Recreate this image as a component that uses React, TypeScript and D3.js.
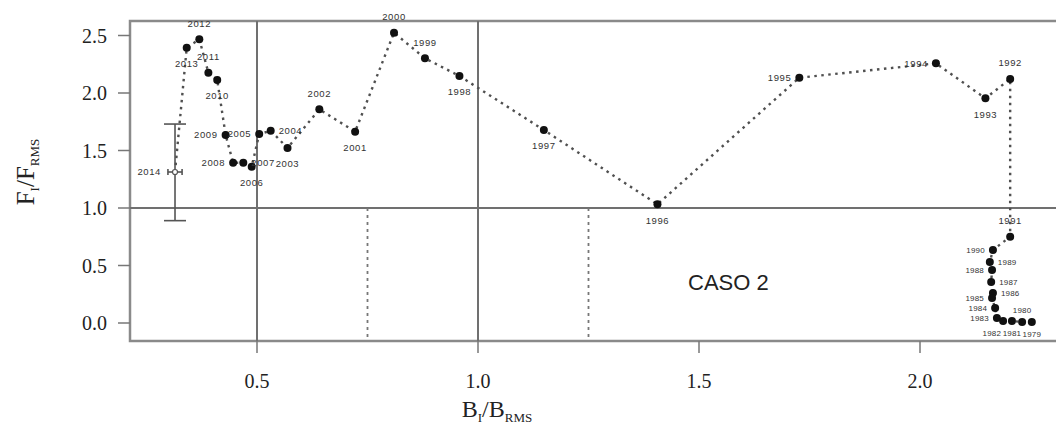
import React from "react";
import * as d3 from "d3";

// Data (year, B_I/B_RMS, F_I/F_RMS)
const years = [
  2014, 2013, 2012, 2011, 2010, 2009, 2008, 2007, 2006, 2005, 2004, 2003, 2002, 2001,
  2000, 1999, 1998, 1997, 1996, 1995, 1994, 1993, 1992, 1991,
  1990, 1989, 1988, 1987, 1986, 1985, 1984, 1983, 1982, 1981, 1980, 1979,
];
const bRatio = [
  0.3145, 0.341, 0.3695, 0.39, 0.41, 0.429, 0.446, 0.469, 0.488, 0.505, 0.531, 0.569, 0.641, 0.722,
  0.81, 0.88, 0.958, 1.149, 1.406, 1.727, 2.036, 2.148, 2.204, 2.204,
  2.165, 2.158, 2.163, 2.161, 2.165, 2.163, 2.17, 2.174, 2.188, 2.208, 2.231, 2.253,
];
const fRatio = [
  1.313, 2.394, 2.467, 2.177, 2.113, 1.635, 1.394, 1.394, 1.359, 1.643, 1.672, 1.522, 1.858, 1.664,
  2.524, 2.302, 2.148, 1.678, 1.032, 2.133, 2.258, 1.954, 2.122, 0.75,
  0.635, 0.53, 0.461, 0.357, 0.261, 0.217, 0.13, 0.043, 0.017, 0.017, 0.009, 0.009,
];
// where each year label sits relative to its point
const labelSide = [
  "l", "b", "t", "t", "b", "l", "l", "r", "b", "l", "r", "b", "t", "b",
  "t", "t", "b", "b", "b", "l", "l", "b", "t", "t",
  "l", "r", "l", "r", "r", "l", "l", "l", "bl", "b", "t", "b",
];
// 2014 uncertainty
const errYear = [2014];
const errLow = [0.89];
const errHigh = [1.73];
const errXHalf = [0.016];

const xTicks = [0.5, 1.0, 1.5, 2.0];
const yTicks = [0.0, 0.5, 1.0, 1.5, 2.0, 2.5];
const solidX = [0.5, 1.0];
const solidY = [1.0];
const dottedX = [0.75, 1.25];

const W = 1056;
const H = 429;
const frame = { left: 130, right: 1070, top: 21, bottom: 341 };

export default function App() {
  const x = d3.scaleLinear().domain([0.5, 2.0]).range([257, 920]);
  const y = d3.scaleLinear().domain([0, 2.5]).range([323, 35.5]);

  const pts = years.map((yr, i) => ({ yr, b: bRatio[i], f: fRatio[i], side: labelSide[i] }));
  const line = d3
    .line<{ b: number; f: number }>()
    .x((d) => x(d.b))
    .y((d) => y(d.f));

  const serif = "'Liberation Serif', 'Times New Roman', serif";
  const sans = "'Liberation Sans', Arial, sans-serif";

  const labelPos = (p: { yr: number; b: number; f: number; side: string }) => {
    const px = x(p.b);
    const py = y(p.f);
    const cluster = p.yr <= 1990;
    const v = cluster ? 12 : 16;
    if (p.side === "t") return { x: px, y: py - v, anchor: "middle" };
    if (p.side === "b") return { x: px, y: py + v, anchor: "middle" };
    if (p.side === "bl") return { x: px - 2, y: py + 12, anchor: "end" };
    if (p.side === "br") return { x: px + 2, y: py + 12, anchor: "start" };
    if (p.side === "l") return { x: px - 8, y: py, anchor: "end" };
    return { x: px + 8, y: py, anchor: "start" };
  };

  return (
    <svg
      width={W}
      height={H}
      style={{ position: "absolute", left: 0, top: 0, background: "#fff" }}
    >
      <rect x={0} y={0} width={W} height={H} fill="#fff" />
      {/* frame */}
      <rect
        x={frame.left}
        y={frame.top}
        width={frame.right - frame.left}
        height={frame.bottom - frame.top}
        fill="none"
        stroke="#8a8a8a"
        strokeWidth={2.5}
      />
      {/* reference lines */}
      {solidX.map((v) => (
        <line key={"sx" + v} x1={x(v)} x2={x(v)} y1={frame.top} y2={frame.bottom} stroke="#707070" strokeWidth={2} />
      ))}
      {solidY.map((v) => (
        <line key={"sy" + v} x1={frame.left} x2={frame.right} y1={y(v)} y2={y(v)} stroke="#707070" strokeWidth={2} />
      ))}
      {dottedX.map((v) => (
        <line
          key={"dx" + v}
          x1={x(v)}
          x2={x(v)}
          y1={y(1.0)}
          y2={frame.bottom}
          stroke="#777"
          strokeWidth={1.8}
          strokeDasharray="3,4"
        />
      ))}
      {/* y axis ticks and labels */}
      {yTicks.map((t) => (
        <g key={"yt" + t}>
          <line x1={frame.left - 12} x2={frame.left} y1={y(t)} y2={y(t)} stroke="#777" strokeWidth={1.5} />
          <text x={107} y={y(t)} dy="0.35em" textAnchor="end" fontFamily={serif} fontSize={20} fill="#222">
            {t.toFixed(1)}
          </text>
        </g>
      ))}
      {/* x axis ticks and labels */}
      {xTicks.map((t) => (
        <g key={"xt" + t}>
          <line x1={x(t)} x2={x(t)} y1={frame.bottom} y2={frame.bottom + 12} stroke="#777" strokeWidth={1.5} />
          <text x={x(t)} y={388} textAnchor="middle" fontFamily={serif} fontSize={20} fill="#222">
            {t.toFixed(1)}
          </text>
        </g>
      ))}
      {/* axis titles */}
      <text x={497} y={417} textAnchor="middle" fontFamily={serif} fontSize={24} fill="#222">
        B<tspan fontSize={13} dy={5}>I</tspan>
        <tspan dy={-5}>/B</tspan>
        <tspan fontSize={13} dy={5}>RMS</tspan>
      </text>
      <text
        transform="translate(34,172) rotate(-90)"
        textAnchor="middle"
        fontFamily={serif}
        fontSize={25}
        fill="#222"
      >
        F<tspan fontSize={13} dy={5}>I</tspan>
        <tspan dy={-5}>/F</tspan>
        <tspan fontSize={13} dy={5}>RMS</tspan>
      </text>
      {/* error bar for 2014 */}
      {errYear.map((yr, i) => {
        const p = pts.find((d) => d.yr === yr)!;
        const cx = x(p.b);
        return (
          <g key={"err" + yr} stroke="#555" strokeWidth={1.6}>
            <line x1={cx} x2={cx} y1={y(errLow[i])} y2={y(errHigh[i])} />
            <line x1={cx - 11} x2={cx + 11} y1={y(errLow[i])} y2={y(errLow[i])} />
            <line x1={cx - 11} x2={cx + 11} y1={y(errHigh[i])} y2={y(errHigh[i])} />
            <line x1={x(p.b - errXHalf[i])} x2={x(p.b + errXHalf[i])} y1={y(p.f)} y2={y(p.f)} />
            <line x1={x(p.b - errXHalf[i])} x2={x(p.b - errXHalf[i])} y1={y(p.f) - 3} y2={y(p.f) + 3} />
            <line x1={x(p.b + errXHalf[i])} x2={x(p.b + errXHalf[i])} y1={y(p.f) - 3} y2={y(p.f) + 3} />
          </g>
        );
      })}
      {/* connecting dotted path */}
      <path d={line(pts) || ""} fill="none" stroke="#505050" strokeWidth={2.4} strokeDasharray="2.5,4.5" />
      {/* markers */}
      {pts.map((p) =>
        p.yr === 2014 ? (
          <circle key={"m" + p.yr} cx={x(p.b)} cy={y(p.f)} r={2.5} fill="#fff" stroke="#555" strokeWidth={1.2} />
        ) : (
          <circle key={"m" + p.yr} cx={x(p.b)} cy={y(p.f)} r={4} fill="#111" />
        )
      )}
      {/* year labels */}
      {pts.map((p) => {
        const lp = labelPos(p);
        const cluster = p.yr <= 1990;
        return (
          <text
            key={"l" + p.yr}
            x={p.yr === 2014 ? lp.x - 6 : lp.x}
            y={lp.y}
            dy="0.35em"
            textAnchor={lp.anchor as any}
            fontFamily={sans}
            fontSize={cluster ? 8 : 9.5}
            letterSpacing={cluster ? 0.2 : 0.6}
            fill="#333"
          >
            {p.yr}
          </text>
        );
      })}
      <text x={688} y={290} fontFamily={sans} fontSize={22} fill="#222">
        CASO 2
      </text>
    </svg>
  );
}
